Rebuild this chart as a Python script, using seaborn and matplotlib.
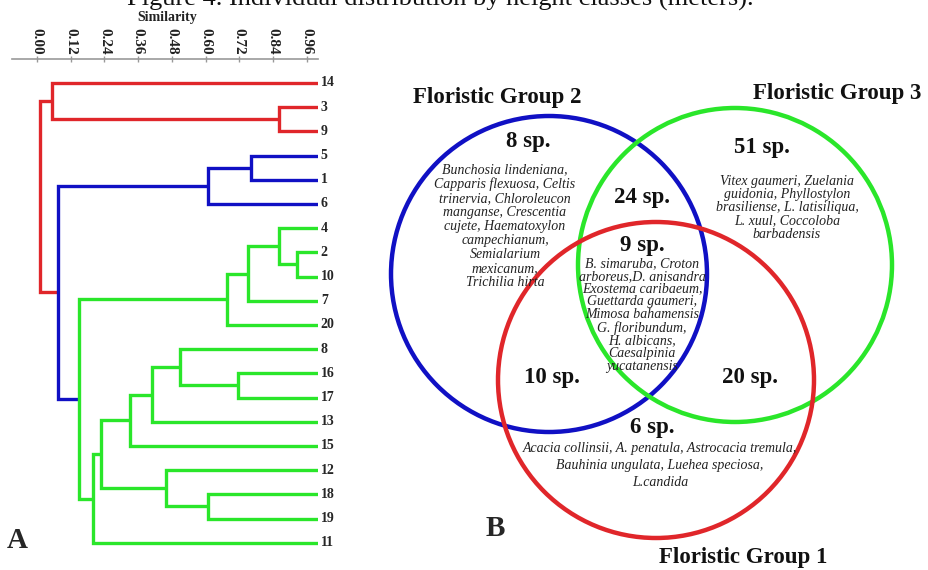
import matplotlib
matplotlib.use("Agg")
import matplotlib.pyplot as plt
from matplotlib.patches import Circle
import numpy as np
import pandas as pd
import seaborn as sns

sns.set_theme(style="white")
plt.rcParams["font.family"] = ["Liberation Serif", "DejaVu Serif"]

# ---- Panel A: UPGMA-style dendrogram of plots (similarity) ----
leaf_labels = ["14", "3", "9", "5", "1", "6", "4", "2", "10", "7",
               "20", "8", "16", "17", "13", "15", "12", "18", "19", "11"]

# merge name, left child, right child, similarity at which they join
merge_names = ["a", "b", "c", "d", "e", "f", "g", "h", "i", "j",
               "k", "l", "m", "n", "o", "p", "q", "r", "s"]
merge_left = ["3", "14", "5", "c", "2", "4", "f", "g", "16", "8",
              "j", "k", "18", "12", "l", "o", "h", "d", "b"]
merge_right = ["9", "a", "1", "6", "10", "e", "7", "20", "17", "i",
               "13", "15", "19", "m", "n", "11", "p", "q", "r"]
merge_sim = [0.86, 0.055, 0.76, 0.61, 0.925, 0.86, 0.75, 0.675, 0.715, 0.51,
             0.41, 0.33, 0.61, 0.46, 0.228, 0.20, 0.15, 0.075, 0.01]
merge_group = ["red", "red", "blue", "blue", "green", "green", "green", "green",
               "green", "green", "green", "green", "green", "green", "green",
               "green", "green", "blue", "red"]

sim_ticks = [0.00, 0.12, 0.24, 0.36, 0.48, 0.60, 0.72, 0.84, 0.96]

# ---- Panel B: Venn diagram of floristic groups ----
region_counts = {"g2": 8, "g3": 51, "g1": 6, "g23": 24, "g12": 10, "g13": 20, "g123": 9}
region_species = {
    "g2": "Bunchosia lindeniana,\nCapparis flexuosa, Celtis\ntrinervia, Chloroleucon\n"
          "manganse, Crescentia\ncujete, Haematoxylon\ncampechianum,\nSemialarium\n"
          "mexicanum,\nTrichilia hirta",
    "g3": "Vitex gaumeri, Zuelania\nguidonia, Phyllostylon\nbrasiliense, L. latisiliqua,\n"
          "L. xuul, Coccoloba\nbarbadensis",
    "g123": "B. simaruba, Croton\narboreus,D. anisandra\nExostema caribaeum,\n"
            "Guettarda gaumeri,\nMimosa bahamensis\nG. floribundum,\nH. albicans,\n"
            "Caesalpinia\nyucatanensis",
    "g1": "Acacia collinsii, A. penatula, Astrocacia tremula,\n"
          "Bauhinia ungulata, Luehea speciosa,\nL.candida",
}
group_names = ["Floristic Group 1", "Floristic Group 2", "Floristic Group 3"]

colors = {"red": "#e0262a", "blue": "#1010c4", "green": "#2ae62a"}

W, H = 929, 570
fig = plt.figure(figsize=(W / 100, H / 100), dpi=100)

# build dendrogram segments
pos = {lab: float(i) for i, lab in enumerate(leaf_labels)}
height = {lab: 1.0 for lab in leaf_labels}
rows = []
for seg_id, (name, l, r, s, g) in enumerate(zip(merge_names, merge_left, merge_right,
                                                 merge_sim, merge_group)):
    yl, yr = pos[l], pos[r]
    xs = [height[l], s, s, height[r]]
    ys = [yl, yl, yr, yr]
    for k, (x, y) in enumerate(zip(xs, ys)):
        rows.append({"seg": seg_id, "order": k, "sim": x, "y": y, "grp": g})
    pos[name] = (yl + yr) / 2
    height[name] = s
seg_df = pd.DataFrame(rows)

def fx(px):
    return px / W

def fy(py):
    return 1 - py / H

ax_l, ax_r, ax_t, ax_b = 12, 318, 59, 560
axd = fig.add_axes([fx(ax_l), fy(ax_b), fx(ax_r) - fx(ax_l), fy(ax_t) - fy(ax_b)])
sns.lineplot(data=seg_df, x="sim", y="y", units="seg", hue="grp", palette=colors,
             estimator=None, sort=False, lw=2.4, legend=False, ax=axd,
             solid_capstyle="butt", solid_joinstyle="miter")
px_per = 281.0
axd.set_xlim((ax_l - 37) / px_per, (ax_l - 37) / px_per + (ax_r - ax_l) / px_per)
leaf_px0, leaf_step = 83.0, 24.2
axd.set_ylim((ax_b - leaf_px0) / leaf_step, (ax_t - leaf_px0) / leaf_step)
axd.set_xlabel("")
axd.set_ylabel("")
axd.set_yticks([])
axd.xaxis.tick_top()
axd.set_xticks(sim_ticks)
axd.set_xticklabels([f"{t:.2f}" for t in sim_ticks], rotation=-90,
                    fontsize=11, fontweight="bold", color="#222222")
axd.tick_params(axis="x", direction="inout", length=4, width=1, color="#999999",
                pad=1, top=True, bottom=False)
for side in ["left", "right", "bottom"]:
    axd.spines[side].set_visible(False)
axd.spines["top"].set_color("#999999")
axd.spines["top"].set_linewidth(1.2)
axd.patch.set_alpha(0)
for lab in leaf_labels:
    axd.annotate(lab, (1.0, pos[lab]), xytext=(2, 0), textcoords="offset points",
                 ha="left", va="center", fontsize=10, fontweight="bold",
                 annotation_clip=False)

# overlay axes in pixel coordinates for titles and Venn
ax = fig.add_axes([0, 0, 1, 1], zorder=-1)
ax.set_xlim(0, W)
ax.set_ylim(H, 0)
ax.axis("off")

ax.text(440, 6, "Figure 4. Individual distribution by height classes (meters).",
        ha="center", va="baseline", fontsize=19, color="#111111")
ax.text(167, 18, "Similarity", ha="center", va="center", fontsize=10,
        fontweight="bold", color="#222222")

circles = {"g2": (549, 274, 158, "blue"), "g3": (735, 265, 157, "green"),
           "g1": (656, 380, 158, "red")}
for key, (cx, cy, rad, c) in circles.items():
    ax.add_patch(Circle((cx, cy), rad, fill=False, ec=colors[c], lw=3.2))

count_xy = {"g2": (528, 142), "g3": (762, 148), "g1": (652, 427), "g23": (642, 197),
            "g12": (552, 377), "g13": (750, 377), "g123": (642, 245)}
for key, (x, y) in count_xy.items():
    ax.text(x, y, f"{region_counts[key]} sp.", ha="center", va="center",
            fontsize=16.5, fontweight="bold", color="#111111")

species_xy = {"g2": (505, 163, 1.1), "g3": (787, 175, 1.02),
              "g123": (642, 257, 0.98), "g1": (660, 442, 1.4)}
for key, (x, y, ls) in species_xy.items():
    ax.text(x, y, region_species[key], ha="center", va="top", fontsize=10,
            style="italic", color="#222222", linespacing=ls)

ax.text(497, 97, group_names[1], ha="center", va="center", fontsize=16.5,
        fontweight="bold", color="#111111")
ax.text(837, 93, group_names[2], ha="center", va="center", fontsize=16.5,
        fontweight="bold", color="#111111")
ax.text(743, 557, group_names[0], ha="center", va="center", fontsize=16.5,
        fontweight="bold", color="#111111")

ax.text(17, 541, "A", ha="center", va="center", fontsize=21, fontweight="bold")
ax.text(495, 529, "B", ha="center", va="center", fontsize=21, fontweight="bold")

fig.savefig("out.png", dpi=100)
